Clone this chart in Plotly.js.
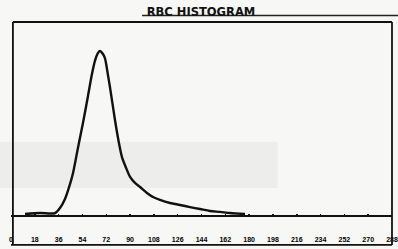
<!DOCTYPE html>
<html>
<head>
<meta charset="utf-8">
<script src="https://cdn.plot.ly/plotly-3.0.1.min.js"></script>
<style>
html,body{margin:0;padding:0;background:#f7f7f5;}
#chart{width:398px;height:249px;}
</style>
</head>
<body>
<div id="chart"></div>
<script>
// RBC volume (fL) and relative counts
var volumeFL = [10.6, 21.9, 29.5, 33.3, 37.0, 40.8, 44.6, 46.9, 50.6, 54.4, 58.2, 61.2, 63.5, 65.8, 67.3, 69.5, 71.0, 73.3, 74.8, 78.6, 80.9, 83.9, 87.0, 90.0, 93.7, 97.5, 102.8, 107.3, 112.6, 120.2, 127.8, 135.3, 142.9, 150.4, 158.0, 165.5, 176.9];
var relCount = [0.5, 1.0, 0.8, 1.0, 3.6, 8.3, 16.0, 21.8, 34.7, 47.7, 61.7, 73.0, 80.0, 84.0, 85.0, 83.4, 81.3, 72.5, 66.3, 49.2, 39.9, 30.0, 24.4, 19.7, 16.6, 14.5, 11.4, 9.3, 7.8, 6.2, 5.2, 4.1, 3.1, 2.1, 1.6, 1.0, 0.5];
var tickVals = [0, 18, 36, 54, 72, 90, 108, 126, 144, 162, 180, 198, 216, 234, 252, 270, 288];
var tickText = ['0', '18', '36', '54', '72', '90', '108', '126', '144', '162', '180', '198', '216', '234', '252', '270', '288'];
var chartTitle = 'RBC HISTOGRAM';

var trace = {
  x: volumeFL,
  y: relCount,
  type: 'scatter',
  mode: 'lines',
  line: {color: '#111', width: 2.4, shape: 'spline', smoothing: 0.8},
  hoverinfo: 'skip'
};

var layout = {
  width: 398, height: 249,
  margin: {l: 11, r: 6, t: 22, b: 34},
  paper_bgcolor: '#f7f7f5',
  plot_bgcolor: 'rgba(0,0,0,0)',
  showlegend: false,
  title: {
    text: '<b>' + chartTitle + '</b>',
    font: {family: 'DejaVu Sans', size: 11.5, color: '#111'},
    x: 0.505, xanchor: 'center',
    y: 0.952, yanchor: 'middle', yref: 'container'
  },
  xaxis: {
    range: [0, 288],
    tickmode: 'array', tickvals: tickVals, ticktext: tickText,
    ticks: 'inside', ticklen: 1.5, tickwidth: 1.5, tickcolor: '#111',
    tickfont: {family: 'Liberation Sans', size: 7, color: '#000', weight: 'bold'},
    ticklabelstandoff: 17,
    showgrid: false, zeroline: false,
    showline: true, linecolor: '#111', linewidth: 2
  },
  yaxis: {
    range: [0, 100],
    showticklabels: false, ticks: '',
    showgrid: false, zeroline: false, showline: false
  },
  shapes: [
    // faint speckled scan band (background tint)
    {type: 'rect', xref: 'paper', yref: 'paper', x0: -0.03, x1: 0.7, y0: 0.14, y1: 0.38,
     fillcolor: 'rgba(110,110,110,0.07)', line: {width: 0}, layer: 'below'},
    // frame: left, right, top
    {type: 'line', xref: 'paper', yref: 'paper', x0: 0.005, x1: 0.005, y0: -0.155, y1: 1,
     line: {color: '#111', width: 1.8}},
    {type: 'line', xref: 'paper', yref: 'paper', x0: 1, x1: 1, y0: -0.155, y1: 1,
     line: {color: '#111', width: 1.8}},
    {type: 'line', xref: 'paper', yref: 'paper', x0: 0.005, x1: 1, y0: 1, y1: 1,
     line: {color: '#111', width: 1.8}},
    // bottom rule below tick labels
    {type: 'line', xref: 'paper', yref: 'paper', x0: 0.0, x1: 1, y0: -0.155, y1: -0.155,
     line: {color: '#111', width: 1.8}},
    // title rule
    {type: 'line', xref: 'paper', yref: 'paper', x0: 0.344, x1: 1.016, y0: 1.034, y1: 1.034,
     line: {color: '#222', width: 1.4}}
  ]
};

Plotly.newPlot('chart', [trace], layout, {staticPlot: true, displayModeBar: false});
</script>
</body>
</html>
